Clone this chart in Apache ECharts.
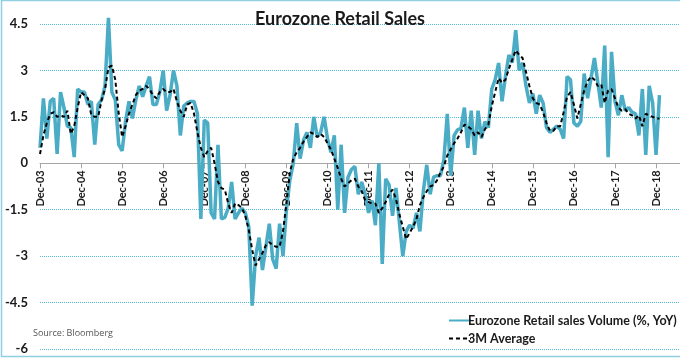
<!DOCTYPE html>
<html>
<head>
<meta charset="utf-8">
<script src="https://cdn.jsdelivr.net/npm/echarts@6/dist/echarts.min.js"></script>
<style>
html,body{margin:0;padding:0;background:#fff;}
#chart{width:680px;height:358px;}
</style>
</head>
<body>
<div id="chart"></div>
<script>
// Monthly data starting Dec-03
const retailSales = [
  0.5, 2.1, 0.8, 2.0, 2.1, 0.3, 2.3, 1.8, 1.2, 1.15, 0.2, 2.4,
  2.3, 2.3, 1.9, 2.0, 0.6, 1.9, 2.05, 2.5, 4.7, 2.3, 2.05, 0.6,
  0.4, 1.35, 2.0, 1.45, 2.05, 2.5, 2.15, 2.5, 2.8, 1.9, 1.9, 2.3,
  3.0, 1.7, 2.2, 3.0, 2.5, 0.9, 1.85, 1.95, 2.0, 2.0, 1.6, -1.8,
  1.4, 1.3, -1.6, -1.8, 0.6, -1.8, -1.75, -1.45, -0.6, -1.8, -1.6, -1.45,
  -1.6, -2.05, -4.6, -3.0, -2.4, -3.45, -2.7, -1.95, -3.1, -3.4, -1.95, -3.0,
  -1.5, -0.55, 0.0, 1.3, 0.15, 0.75, 1.0, 0.5, 1.5, 0.85, 1.0, 1.5,
  0.8, 0.35, 0.9, -1.5, 0.6, -1.6, -0.45, -0.2, -0.1, -1.0, -0.6, -1.0,
  -1.6, -1.2, -2.0, 0.0, -3.25, -0.5, -0.7, -1.7, -0.8, -1.9, -3.0, -2.2,
  -2.0, -2.1, -1.6, -2.2, -0.9, -0.05, -1.0, -0.45, -0.4, -0.4, 0.1, 1.6,
  -0.4, 0.9, 1.08, 1.13, 1.8, 0.5, 1.7, 0.27, 1.7, 0.8, 1.35, 1.15,
  2.4, 2.7, 3.24, 2.0, 2.8, 3.5, 3.25, 4.3, 3.0, 3.25, 2.5, 1.95,
  2.25, 1.6, 2.2, 1.95, 1.15, 1.0, 1.1, 1.2, 1.1, 0.8, 2.8, 2.7,
  1.3, 1.2, 1.35, 2.9, 2.1, 2.75, 3.4, 2.6, 1.8, 3.8, 0.2, 3.6,
  2.0, 1.55, 2.2, 1.7, 1.8, 1.65, 1.6, 0.9, 2.4, 0.27, 2.5, 1.95,
  0.27, 2.2
];
const avg3M = [
  0.3, 0.9, 1.3, 1.6, 1.65, 1.5, 1.55, 1.5, 1.7, 0.95, 1.2, 1.8,
  2.3, 2.2, 2.1, 1.55, 1.5, 1.5, 2.05, 2.4, 3.1, 3.15, 2.7, 1.6,
  0.85, 1.2, 1.6, 1.9, 2.2, 2.35, 2.4, 2.5, 2.4, 2.2, 2.1, 2.3,
  2.4, 2.3, 2.3, 2.4, 2.0, 1.7, 1.5, 1.9, 1.95, 1.6, 1.0, 0.5,
  0.2, 0.4, 0.5, 0.0, -0.6, -0.8, -0.85, -1.3, -1.6, -1.3, -1.35, -1.45,
  -1.7, -2.15, -2.8, -3.3, -3.1, -2.9, -2.65, -2.55, -2.65, -2.7, -2.7, -2.2,
  -1.3, -0.3, 0.15, 0.35, 0.5, 0.7, 0.85, 1.0, 0.95, 0.85, 0.95, 0.85,
  0.65, 0.45, 0.15, -0.15, -0.5, -0.75, -0.65, -0.55, -0.5, -0.75, -0.9, -1.2,
  -1.25, -1.3, -1.3, -1.6, -1.45, -1.25, -1.0, -0.85, -1.15, -1.65, -2.05, -2.45,
  -2.25, -2.05, -1.8, -1.35, -1.1, -0.9, -0.75, -0.7, -0.55, -0.3, -0.1, 0.25,
  0.45, 0.65, 0.8, 1.0, 1.25, 1.2, 1.1, 0.9, 1.0, 0.85, 1.1, 1.25,
  1.85, 2.3, 2.75, 2.6, 2.7, 3.05, 3.35, 3.65, 3.5, 3.4, 2.95, 2.5,
  2.1, 1.95, 1.9, 1.65, 1.3, 1.05, 1.05, 1.2, 1.2, 1.65, 2.15, 2.3,
  1.9, 1.45, 1.9, 2.35, 2.65, 2.8, 2.7, 2.5, 2.55, 1.95, 2.35, 2.4,
  2.1, 1.8, 1.7, 1.75, 1.6, 1.55, 1.45, 1.55, 1.2, 1.6, 1.55, 1.5,
  1.45, 1.45
];
const tickLabels = ['Dec-03','Dec-04','Dec-05','Dec-06','Dec-07','Dec-08','Dec-09','Dec-10',
  'Dec-11','Dec-12','Dec-13','Dec-14','Dec-15','Dec-16','Dec-17','Dec-18'];
const monthNames = ['Jan','Feb','Mar','Apr','May','Jun','Jul','Aug','Sep','Oct','Nov','Dec'];
const categoryCount = 188;
const categories = [];
for (let k = 0; k < categoryCount; k++) {
  const m = (11 + k) % 12;
  const y = 2003 + Math.floor((11 + k) / 12);
  categories.push(monthNames[m] + '-' + String(y % 100).padStart(2, '0'));
}
const seriesNames = ['Eurozone Retail sales Volume (%, YoY)', '3M Average'];

const chart = echarts.init(document.getElementById('chart'), null, {renderer: 'canvas'});
const isTick = (idx, val) => tickLabels.indexOf(val) >= 0;
const gridTop = 24, gridBottom = 9, yMin = -6, yMax = 4.5;
const gridH = 358 - gridTop - gridBottom;
// move the x axis up to the value 0 on the y scale
const zeroOffset = -gridH * (0 - yMin) / (yMax - yMin);
chart.setOption({
  animation: false,
  backgroundColor: '#ffffff',
  title: {
    text: 'Eurozone Retail Sales',
    left: 'center',
    top: 5,
    textStyle: {fontFamily: 'Lato', fontWeight: 'bold', fontSize: 18, color: '#1a1a1a'}
  },
  legend: {
    orient: 'vertical',
    left: 443,
    top: 309,
    itemWidth: 22,
    itemHeight: 10,
    itemGap: 5,
    textStyle: {fontFamily: 'Lato', fontWeight: 'bold', fontSize: 12.5, color: '#1a1a1a', padding: [0,0,0,-8]},
    data: [
      {name: seriesNames[0], itemStyle: {opacity: 0}},
      {name: seriesNames[1], itemStyle: {opacity: 0}}
    ]
  },
  grid: {left: 40, right: 0, top: gridTop, bottom: gridBottom, containLabel: false},
  xAxis: {
    type: 'category',
    data: categories,
    boundaryGap: false,
    offset: zeroOffset,
    axisLine: {onZero: false, lineStyle: {color: '#a6a6a6', width: 1}},
    axisTick: {show: true, interval: isTick, length: 5, lineStyle: {color: '#a6a6a6'}},
    axisLabel: {
      interval: isTick,
      rotate: 90,
      margin: 7,
      fontFamily: 'Lato',
      fontWeight: 'bold',
      fontSize: 11,
      color: '#1a1a1a'
    },
    splitLine: {show: false}
  },
  yAxis: {
    type: 'value',
    min: yMin,
    max: yMax,
    interval: 1.5,
    axisLine: {show: false},
    axisTick: {show: false},
    axisLabel: {
      margin: 12,
      fontFamily: 'Lato',
      fontWeight: 'bold',
      fontSize: 13,
      color: '#1a1a1a'
    },
    splitLine: {show: true, lineStyle: {color: '#4fc0d6', type: 'dotted', width: 1}}
  },
  graphic: [
    {type: 'rect', shape: {x: 1.5, y: 0.5, width: 700, height: 356}, style: {fill: 'none', stroke: '#8fd0e0', lineWidth: 1.5}, silent: true},
    {type: 'text', left: 33, top: 329, style: {text: 'Source: Bloomberg', font: '9px "Open Sans"', fill: '#555555'}}
  ],
  series: [
    {
      name: seriesNames[0],
      type: 'line',
      data: retailSales,
      symbol: 'none',
      clip: false,
      lineStyle: {color: '#4bacc6', width: 3.5},
      itemStyle: {color: '#4bacc6'},
      z: 2
    },
    {
      name: seriesNames[1],
      type: 'line',
      data: avg3M,
      symbol: 'none',
      clip: false,
      lineStyle: {color: '#000000', width: 2, type: [4, 3]},
      itemStyle: {color: '#000000'},
      z: 3
    }
  ]
});
</script>
</body>
</html>
